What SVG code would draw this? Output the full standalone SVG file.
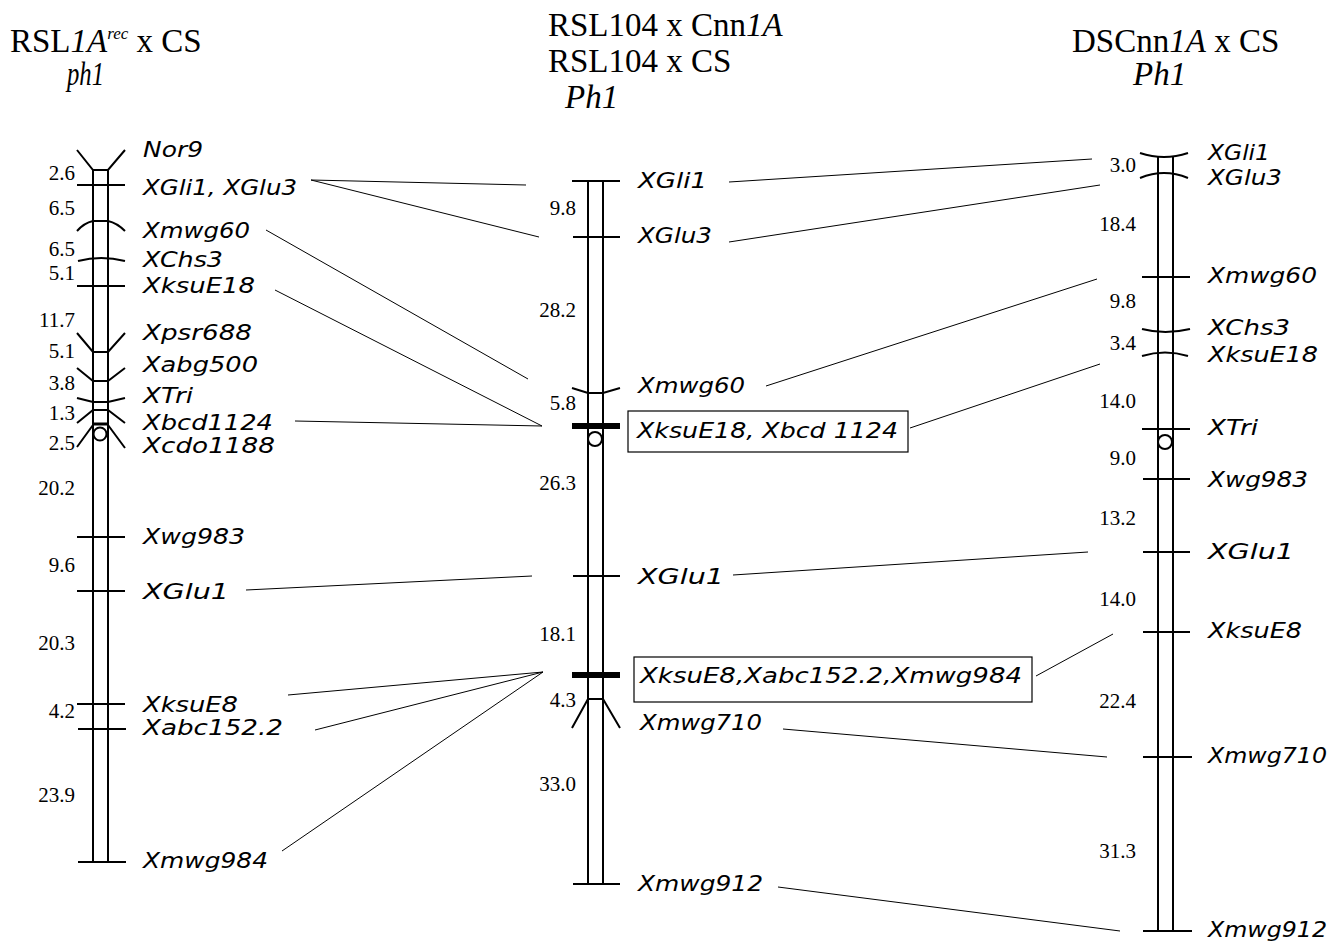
<svg xmlns="http://www.w3.org/2000/svg" width="1337" height="943" viewBox="0 0 1337 943">
<style>
.t{font-family:"Liberation Serif","Times New Roman",serif;font-size:33px;fill:#000}
.i{font-style:italic}
.n{font-family:"Liberation Serif","Times New Roman",serif;font-size:21px;fill:#000}
.nl{text-anchor:end}
.m{font-family:"DejaVu Sans","Liberation Sans",sans-serif;font-style:italic;font-size:21px;fill:#000}
.bar{stroke:#000;stroke-width:2;fill:none}
.tk{stroke:#000;stroke-width:2;fill:none}
.thick{stroke:#000;stroke-width:6}
.c{stroke:#000;stroke-width:1;fill:none}
.box{fill:none;stroke:#000;stroke-width:1.2}
</style>
<rect width="1337" height="943" fill="#fff"/>

<g id="titles">
<text class="t" x="10" y="52">RSL<tspan class="i">1A</tspan><tspan class="i" font-size="17" dy="-13">rec</tspan><tspan dy="13"> x CS</tspan></text>
<text class="t i" x="67" y="85" font-size="30" textLength="37" lengthAdjust="spacingAndGlyphs">ph1</text>
<text class="t" x="548" y="36">RSL104 x Cnn<tspan class="i">1A</tspan></text>
<text class="t" x="548" y="72">RSL104 x CS</text>
<text class="t i" x="565" y="108">Ph1</text>
<text class="t" x="1072" y="52">DSCnn<tspan class="i">1A</tspan> x CS</text>
<text class="t i" x="1133" y="85">Ph1</text>
</g>

<g id="connectors">
<line class="c" x1="311" y1="180" x2="526" y2="185"/>
<line class="c" x1="311" y1="180" x2="539" y2="237"/>
<line class="c" x1="266" y1="230" x2="528" y2="379"/>
<line class="c" x1="275" y1="290" x2="542" y2="426"/>
<line class="c" x1="295" y1="421" x2="542" y2="426"/>
<line class="c" x1="246" y1="590" x2="532" y2="576"/>
<line class="c" x1="288" y1="695" x2="543" y2="672"/>
<line class="c" x1="315" y1="730" x2="543" y2="672"/>
<line class="c" x1="282" y1="851" x2="543" y2="672"/>
<line class="c" x1="729" y1="182" x2="1092" y2="159"/>
<line class="c" x1="729" y1="242" x2="1100" y2="185"/>
<line class="c" x1="766" y1="386" x2="1097" y2="279"/>
<line class="c" x1="910" y1="428" x2="1100" y2="364"/>
<line class="c" x1="733" y1="575" x2="1088" y2="552"/>
<line class="c" x1="1036" y1="676" x2="1113" y2="634"/>
<line class="c" x1="783" y1="729" x2="1107" y2="757"/>
<line class="c" x1="778" y1="887" x2="1120" y2="931"/>
</g>

<g id="chrom-left">
<line class="bar" x1="93" y1="170" x2="93" y2="862"/>
<line class="bar" x1="108" y1="170" x2="108" y2="862"/>
<path class="tk" d="M77,150 L93,170 L108,170 L125,150"/>
<line class="tk" x1="77" y1="185" x2="125" y2="185"/>
<path class="tk" d="M77,231 Q84,223 93,221 L108,221 Q117,223 125,231"/>
<path class="tk" d="M78,261 Q101,255 125,261"/>
<line class="tk" x1="77" y1="286" x2="125" y2="286"/>
<path class="tk" d="M77,333 L93,352 L108,352 L125,333"/>
<path class="tk" d="M77,368 L93,381 L108,381 L125,368"/>
<path class="tk" d="M77,398 L93,402 L108,402 L125,398"/>
<path class="tk" d="M77,423 L93,410 L108,410 L125,423"/>
<path class="tk" d="M77,447 L93,425 M108,425 L125,448"/>
<line x1="93" y1="424" x2="108" y2="424" stroke="#000" stroke-width="3"/>
<circle cx="100" cy="434" r="6.5" fill="#fff" stroke="#000" stroke-width="2"/>
<line class="tk" x1="77" y1="537" x2="125" y2="537"/>
<line class="tk" x1="77" y1="591" x2="125" y2="591"/>
<line class="tk" x1="77" y1="704" x2="125" y2="704"/>
<line class="tk" x1="78" y1="729" x2="126" y2="729"/>
<line class="tk" x1="78" y1="862" x2="126" y2="862"/>
</g>

<g id="labels-left">
<text class="m" x="143" y="157" textLength="60" lengthAdjust="spacingAndGlyphs">Nor9</text>
<text class="m" x="143" y="195" textLength="154" lengthAdjust="spacingAndGlyphs">XGli1, XGlu3</text>
<text class="m" x="143" y="238" textLength="107" lengthAdjust="spacingAndGlyphs">Xmwg60</text>
<text class="m" x="143" y="267" textLength="80" lengthAdjust="spacingAndGlyphs">XChs3</text>
<text class="m" x="143" y="293" textLength="112" lengthAdjust="spacingAndGlyphs">XksuE18</text>
<text class="m" x="143" y="340" textLength="109" lengthAdjust="spacingAndGlyphs">Xpsr688</text>
<text class="m" x="143" y="372" textLength="115" lengthAdjust="spacingAndGlyphs">Xabg500</text>
<text class="m" x="143" y="403" textLength="50" lengthAdjust="spacingAndGlyphs">XTri</text>
<text class="m" x="143" y="430" textLength="130" lengthAdjust="spacingAndGlyphs">Xbcd1124</text>
<text class="m" x="143" y="453" textLength="132" lengthAdjust="spacingAndGlyphs">Xcdo1188</text>
<text class="m" x="143" y="544" textLength="102" lengthAdjust="spacingAndGlyphs">Xwg983</text>
<text class="m" x="143" y="599" textLength="86" lengthAdjust="spacingAndGlyphs">XGlu1</text>
<text class="m" x="143" y="712" textLength="95" lengthAdjust="spacingAndGlyphs">XksuE8</text>
<text class="m" x="143" y="735" textLength="140" lengthAdjust="spacingAndGlyphs">Xabc152.2</text>
<text class="m" x="143" y="868" textLength="125" lengthAdjust="spacingAndGlyphs">Xmwg984</text>
</g>

<g id="dist-left">
<text class="n nl" x="75" y="180">2.6</text>
<text class="n nl" x="75" y="215">6.5</text>
<text class="n nl" x="75" y="256">6.5</text>
<text class="n nl" x="75" y="280">5.1</text>
<text class="n nl" x="75" y="327">11.7</text>
<text class="n nl" x="75" y="358">5.1</text>
<text class="n nl" x="75" y="390">3.8</text>
<text class="n nl" x="75" y="420">1.3</text>
<text class="n nl" x="75" y="450">2.5</text>
<text class="n nl" x="75" y="495">20.2</text>
<text class="n nl" x="75" y="572">9.6</text>
<text class="n nl" x="75" y="650">20.3</text>
<text class="n nl" x="75" y="718">4.2</text>
<text class="n nl" x="75" y="802">23.9</text>
</g>

<g id="chrom-middle">
<line class="bar" x1="588" y1="181" x2="588" y2="884"/>
<line class="bar" x1="603" y1="181" x2="603" y2="884"/>
<line class="tk" x1="572" y1="181" x2="620" y2="181"/>
<line class="tk" x1="573" y1="237" x2="620" y2="237"/>
<path class="tk" d="M572,388 L588,393 L603,393 L620,388"/>
<line class="thick" x1="572" y1="426" x2="620" y2="426"/>
<circle cx="595" cy="439" r="7" fill="#fff" stroke="#000" stroke-width="2"/>
<line class="tk" x1="573" y1="576" x2="620" y2="576"/>
<line class="thick" x1="572" y1="675" x2="620" y2="675"/>
<path class="tk" d="M572,728 L588,699 L603,699 L620,728"/>
<line class="tk" x1="573" y1="884" x2="620" y2="884"/>
</g>

<g id="labels-middle">
<text class="m" x="638" y="188" textLength="69" lengthAdjust="spacingAndGlyphs">XGli1</text>
<text class="m" x="638" y="243" textLength="74" lengthAdjust="spacingAndGlyphs">XGlu3</text>
<text class="m" x="638" y="393" textLength="107" lengthAdjust="spacingAndGlyphs">Xmwg60</text>
<rect class="box" x="628" y="411" width="280" height="41"/>
<text class="m" x="637" y="438" textLength="261" lengthAdjust="spacingAndGlyphs">XksuE18, Xbcd 1124</text>
<text class="m" x="638" y="584" textLength="86" lengthAdjust="spacingAndGlyphs">XGlu1</text>
<rect class="box" x="634" y="657" width="398" height="45"/>
<text class="m" x="640" y="683" textLength="382" lengthAdjust="spacingAndGlyphs">XksuE8,Xabc152.2,Xmwg984</text>
<text class="m" x="640" y="730" textLength="122" lengthAdjust="spacingAndGlyphs">Xmwg710</text>
<text class="m" x="638" y="891" textLength="125" lengthAdjust="spacingAndGlyphs">Xmwg912</text>
</g>

<g id="dist-middle">
<text class="n nl" x="576" y="215">9.8</text>
<text class="n nl" x="576" y="317">28.2</text>
<text class="n nl" x="576" y="410">5.8</text>
<text class="n nl" x="576" y="490">26.3</text>
<text class="n nl" x="576" y="641">18.1</text>
<text class="n nl" x="576" y="707">4.3</text>
<text class="n nl" x="576" y="791">33.0</text>
</g>

<g id="chrom-right">
<line class="bar" x1="1158" y1="157" x2="1158" y2="931"/>
<line class="bar" x1="1173" y1="157" x2="1173" y2="931"/>
<path class="tk" d="M1140,153 Q1164,161 1188,153"/>
<path class="tk" d="M1140,178 Q1164,168 1188,178"/>
<line class="tk" x1="1142" y1="277" x2="1190" y2="277"/>
<path class="tk" d="M1142,329 Q1165,335 1190,329"/>
<path class="tk" d="M1142,356 Q1165,349 1188,356"/>
<line class="tk" x1="1142" y1="429" x2="1190" y2="429"/>
<circle cx="1165" cy="442" r="7" fill="#fff" stroke="#000" stroke-width="2"/>
<line class="tk" x1="1143" y1="479" x2="1190" y2="479"/>
<line class="tk" x1="1143" y1="552" x2="1190" y2="552"/>
<line class="tk" x1="1143" y1="632" x2="1190" y2="632"/>
<line class="tk" x1="1143" y1="757" x2="1192" y2="757"/>
<line class="tk" x1="1143" y1="931" x2="1192" y2="931"/>
</g>

<g id="labels-right">
<text class="m" x="1208" y="160" textLength="62" lengthAdjust="spacingAndGlyphs">XGli1</text>
<text class="m" x="1208" y="185" textLength="74" lengthAdjust="spacingAndGlyphs">XGlu3</text>
<text class="m" x="1208" y="283" textLength="109" lengthAdjust="spacingAndGlyphs">Xmwg60</text>
<text class="m" x="1208" y="335" textLength="82" lengthAdjust="spacingAndGlyphs">XChs3</text>
<text class="m" x="1208" y="362" textLength="110" lengthAdjust="spacingAndGlyphs">XksuE18</text>
<text class="m" x="1208" y="435" textLength="50" lengthAdjust="spacingAndGlyphs">XTri</text>
<text class="m" x="1208" y="487" textLength="100" lengthAdjust="spacingAndGlyphs">Xwg983</text>
<text class="m" x="1208" y="559" textLength="86" lengthAdjust="spacingAndGlyphs">XGlu1</text>
<text class="m" x="1208" y="638" textLength="94" lengthAdjust="spacingAndGlyphs">XksuE8</text>
<text class="m" x="1208" y="763" textLength="119" lengthAdjust="spacingAndGlyphs">Xmwg710</text>
<text class="m" x="1208" y="937" textLength="119" lengthAdjust="spacingAndGlyphs">Xmwg912</text>
</g>

<g id="dist-right">
<text class="n nl" x="1136" y="172">3.0</text>
<text class="n nl" x="1136" y="231">18.4</text>
<text class="n nl" x="1136" y="308">9.8</text>
<text class="n nl" x="1136" y="350">3.4</text>
<text class="n nl" x="1136" y="408">14.0</text>
<text class="n nl" x="1136" y="465">9.0</text>
<text class="n nl" x="1136" y="525">13.2</text>
<text class="n nl" x="1136" y="606">14.0</text>
<text class="n nl" x="1136" y="708">22.4</text>
<text class="n nl" x="1136" y="858">31.3</text>
</g>
</svg>
